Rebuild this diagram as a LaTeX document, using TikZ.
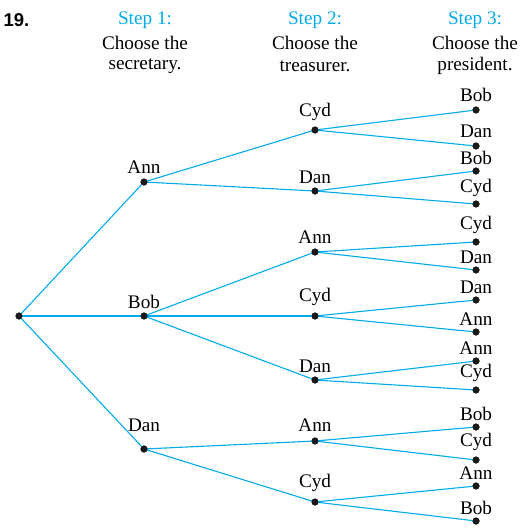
\documentclass[tikz,border=0pt]{standalone}
\usepackage{fontspec}
\setmainfont{Liberation Serif}
\newfontfamily\numfont{Liberation Sans}
\definecolor{treecyan}{RGB}{0,170,235}
\begin{document}
\begin{tikzpicture}[x=1pt,y=-1pt,
  dot/.style={circle,fill=black!90,inner sep=0pt,minimum size=7pt},
  br/.style={draw=treecyan,line width=1.1pt},
  lbl/.style={font=\fontsize{19.2}{21}\selectfont,inner sep=0pt},
  hdr/.style={font=\fontsize{19.2}{21}\selectfont,inner sep=0pt,align=center}]
\useasboundingbox (0,0) rectangle (521,532);
% headers
\node[font=\numfont\bfseries\fontsize{18.5}{20}\selectfont,inner sep=0pt] (num) at (16.5,20) {19.};
\node[hdr,text=treecyan] (s1) at (145,20) {Step 1:};
\node[hdr] (c1) at (145,43) {Choose the};
\node[hdr] (d1) at (145,66) {secretary.};
\node[hdr,text=treecyan] (s2) at (315,20) {Step 2:};
\node[hdr] (c2) at (315,43) {Choose the};
\node[hdr] (d2) at (315,66) {treasurer.};
\node[hdr,text=treecyan] (s3) at (475,20) {Step 3:};
\node[hdr] (c3) at (475,43) {Choose the};
\node[hdr] (d3) at (475,66) {president.};
% dots
\node[dot] (r) at (19,316) {};
\node[dot] (a) at (144,182) {};
\node[dot] (b) at (144,316) {};
\node[dot] (d) at (144,449) {};
\node[dot] (ac) at (315,130) {};
\node[dot] (ad) at (315,191) {};
\node[dot] (ba) at (315,252) {};
\node[dot] (bc) at (315,316) {};
\node[dot] (bd) at (315,380) {};
\node[dot] (da) at (315,441) {};
\node[dot] (dc) at (315,502) {};
\node[dot] (acb) at (476,110) {};
\node[dot] (acd) at (476,146) {};
\node[dot] (adb) at (476,171) {};
\node[dot] (adc) at (476,204) {};
\node[dot] (bac) at (476,242) {};
\node[dot] (bad) at (476,270) {};
\node[dot] (bcd) at (476,300) {};
\node[dot] (bca) at (476,332) {};
\node[dot] (bda) at (476,361) {};
\node[dot] (bdc) at (476,390) {};
\node[dot] (dab) at (476,427) {};
\node[dot] (dac) at (476,460) {};
\node[dot] (dca) at (476,486) {};
\node[dot] (dcb) at (476,521) {};
% branches
\foreach \p/\c in {r/a,r/b,r/d,a/ac,a/ad,b/ba,b/bc,b/bd,d/da,d/dc,
  ac/acb,ac/acd,ad/adb,ad/adc,ba/bac,ba/bad,bc/bcd,bc/bca,bd/bda,bd/bdc,
  da/dab,da/dac,dc/dca,dc/dcb}
  \draw[br] (\p.center) -- (\c.center);
% redraw dots on top
\foreach \n in {r,a,b,d,ac,ad,ba,bc,bd,da,dc,acb,acd,adb,adc,bac,bad,bcd,bca,bda,bdc,dab,dac,dca,dcb}
  \fill[black!90] (\n.center) circle (3.5pt);
% labels
\node[lbl] (la) at (144,167) {Ann};
\node[lbl] (lb) at (144,302) {Bob};
\node[lbl] (ld) at (144,425) {Dan};
\node[lbl] (lac) at (315,112) {Cyd};
\node[lbl] (lad) at (315,177) {Dan};
\node[lbl] (lba) at (315,237) {Ann};
\node[lbl] (lbc) at (315,297) {Cyd};
\node[lbl] (lbd) at (315,366) {Dan};
\node[lbl] (lda) at (315,425) {Ann};
\node[lbl] (ldc) at (315,483) {Cyd};
\node[lbl] (lacb) at (476,95) {Bob};
\node[lbl] (lacd) at (476,131) {Dan};
\node[lbl] (ladb) at (476,158) {Bob};
\node[lbl] (ladc) at (476,188) {Cyd};
\node[lbl] (lbac) at (476,225) {Cyd};
\node[lbl] (lbad) at (476,257) {Dan};
\node[lbl] (lbcd) at (476,287) {Dan};
\node[lbl] (lbca) at (476,319) {Ann};
\node[lbl] (lbda) at (476,348) {Ann};
\node[lbl] (lbdc) at (476,373) {Cyd};
\node[lbl] (ldab) at (476,414) {Bob};
\node[lbl] (ldac) at (476,442) {Cyd};
\node[lbl] (ldca) at (476,473) {Ann};
\node[lbl] (ldcb) at (476,508) {Bob};
\end{tikzpicture}
\end{document}
